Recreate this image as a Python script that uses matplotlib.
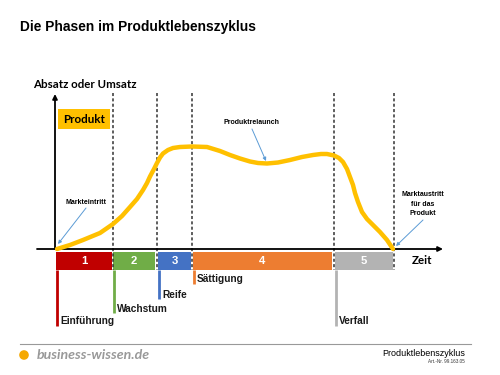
import matplotlib.pyplot as plt
from matplotlib.patches import Rectangle, Circle

# phases: number, name, left/right edge (px), colour, flag depth (px)
phase_nums = ['1', '2', '3', '4', '5']
phase_names = ['Einführung', 'Wachstum', 'Reife', 'Sättigung', 'Verfall']
phase_left = [56, 113, 158, 193, 335]
phase_right = [112, 155, 191, 332, 393]
phase_colors = ['#C00000', '#70AD47', '#4472C4', '#ED7D31', '#B3B3B3']
flag_bottom = [326, 313, 299, 284, 326]

# dashed separators
sep_x = [113, 157, 192, 334, 394]

# product life cycle curve (px)
curve_x = [57, 70, 83, 100, 113, 122, 130, 137, 143, 147, 150, 154, 157, 160, 163,
           168, 173, 180, 192, 207, 220, 230, 240, 250, 258, 267, 278, 290, 302,
           313, 321, 327, 334, 339, 343, 347, 350, 353, 355, 358, 362, 367, 373,
           380, 387, 393]
curve_y = [249, 245, 240, 233, 224, 216, 207, 199, 190, 183, 176.5, 169, 163, 157.5, 153.5,
           150, 148, 147, 146.5, 147, 151, 155, 158.5, 161.5, 163, 163.5, 162.5, 160, 157,
           155, 154, 154, 155.5, 158, 162, 169, 177, 185, 193, 202, 212, 219, 225,
           232, 240, 249]

# callouts: text, text position, arrow start, arrow tip
notes = ['Markteintritt', 'Produktrelaunch', 'Marktaustritt\nfür das\nProdukt']
note_xy = [(86, 202), (252, 123), (423, 204)]
arrow_from = [(86, 208), (252, 129), (423, 220)]
arrow_to = [(58, 244), (266, 161), (396, 246)]

fig = plt.figure(figsize=(5, 3.75), dpi=100)
ax = fig.add_axes([0, 0, 1, 1])
ax.set_xlim(0, 500)
ax.set_ylim(375, 0)
ax.axis('off')

arial = 'Liberation Sans'
calibri = 'Lato'
blue = '#5B9BD5'

ax.text(20, 31, 'Die Phasen im Produktlebenszyklus', fontsize=9.9,
        fontweight='bold', family=arial, va='baseline')

# axes with arrows
ax.annotate('', xy=(443, 249), xytext=(37, 249),
            arrowprops=dict(arrowstyle='-|>', color='black', lw=1.3,
                            mutation_scale=7, shrinkA=0, shrinkB=0))
ax.annotate('', xy=(55, 94), xytext=(55, 249),
            arrowprops=dict(arrowstyle='-|>', color='black', lw=1.3,
                            mutation_scale=7, shrinkA=0, shrinkB=0))
ax.text(33, 88, 'Absatz oder Umsatz', fontsize=8.3, fontweight='bold',
        family=calibri, va='baseline')
ax.text(412, 264, 'Zeit', fontsize=8.3, fontweight='bold', family=calibri,
        va='baseline')

# dashed separators
for x in sep_x:
    ax.plot([x, x], [93, 270], color='#333333', lw=1.1, ls=(0, (2, 1.5)))

# phase bars and flags
for i in range(len(phase_nums)):
    l, r = phase_left[i], phase_right[i]
    ax.add_patch(Rectangle((l, 252), r - l, 18, color=phase_colors[i], lw=0))
    ax.text((l + r) / 2, 261.5, phase_nums[i], color='white', fontsize=8.2,
            fontweight='bold', family=arial, ha='center', va='center')
    ax.plot([l + 1.2, l + 1.2], [270, flag_bottom[i]], color=phase_colors[i],
            lw=2, solid_capstyle='butt')
    ax.text(l + 4, flag_bottom[i] - 1.5, phase_names[i], fontsize=7.3,
            fontweight='bold', family=arial, va='baseline', color='#1a1a1a')

# curve
ax.plot(curve_x, curve_y, color='#FFC000', lw=3.2, solid_capstyle='round',
        solid_joinstyle='round', zorder=3)

# product box
ax.add_patch(Rectangle((58, 109), 52, 20, color='#FFC000', lw=0))
ax.text(84, 119.5, 'Produkt', fontsize=8.4, fontweight='bold', family=calibri,
        ha='center', va='center')

# callouts
for txt, pos, a, b in zip(notes, note_xy, arrow_from, arrow_to):
    ax.text(pos[0], pos[1], txt, fontsize=5, fontweight='bold', family=arial,
            ha='center', va='center', linespacing=1.45)
    ax.annotate('', xy=b, xytext=a,
                arrowprops=dict(arrowstyle='-|>', color=blue, lw=0.7,
                                mutation_scale=5, shrinkA=0, shrinkB=0))

# footer
ax.plot([20, 471], [344, 344], color='#999999', lw=0.8)
ax.add_patch(Circle((24, 355), 4.8, color='#F5A800', lw=0))
ax.text(37, 359, 'business-wissen.de', fontsize=10.2, fontweight='bold',
        style='italic', family='Lato', color='#999999', va='baseline')
ax.text(465, 356, 'Produktlebenszyklus', fontsize=6.5, family=arial,
        ha='right', va='baseline')
ax.text(465, 363, 'Art.-Nr. 99.163.05', fontsize=3.3, family=arial,
        ha='right', va='baseline', color='#333333')

fig.savefig('out.png', dpi=100)
